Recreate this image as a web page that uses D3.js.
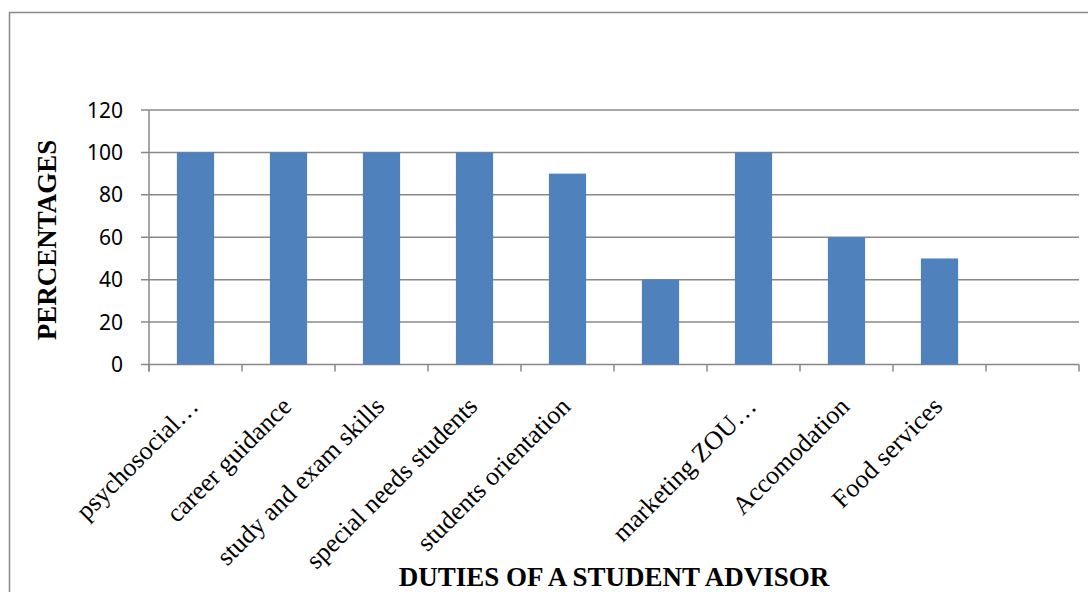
<!DOCTYPE html>
<html>
<head>
<meta charset="utf-8">
<script src="https://cdn.jsdelivr.net/npm/d3@7"></script>
<style>
body { margin: 0; background: #fff; }
svg { display: block; }
</style>
</head>
<body>
<div id="chartDiv"></div>
<script>
var categories = ["psychosocial\u2026", "career guidance", "study and exam skills", "special needs students",
  "students orientation", "", "marketing ZOU\u2026", "Accomodation", "Food services", " "];
var values = [100, 100, 100, 100, 90, 40, 100, 60, 50, null];
var yTicks = [0, 20, 40, 60, 80, 100, 120];

var width = 1088, height = 592;
var plotLeft = 149, plotRight = 1079, plotTop = 110, plotBottom = 364.5;

var svg = d3.select("#chartDiv").append("svg")
  .attr("width", width)
  .attr("height", height);

// chart frame
svg.append("rect")
  .attr("x", 9.5).attr("y", 12.5)
  .attr("width", 1100).attr("height", 600)
  .attr("fill", "none")
  .attr("stroke", "#888")
  .attr("stroke-width", 1.5);

var x = d3.scaleBand()
  .domain(d3.range(categories.length))
  .range([plotLeft, plotRight])
  .paddingInner(0).paddingOuter(0);

var y = d3.scaleLinear()
  .domain([0, 120])
  .range([plotBottom, plotTop]);

// gridlines
svg.append("g")
  .selectAll("line")
  .data(yTicks)
  .enter().append("line")
  .attr("x1", plotLeft - 8).attr("x2", plotRight)
  .attr("y1", function (d) { return y(d); })
  .attr("y2", function (d) { return y(d); })
  .attr("stroke", "#888")
  .attr("stroke-width", 1.5);

// y axis line
svg.append("line")
  .attr("x1", plotLeft).attr("x2", plotLeft)
  .attr("y1", plotTop).attr("y2", plotBottom + 7)
  .attr("stroke", "#888")
  .attr("stroke-width", 1.5);

// x ticks
svg.append("g")
  .selectAll("line")
  .data(d3.range(categories.length + 1))
  .enter().append("line")
  .attr("x1", function (i) { return plotLeft + i * x.bandwidth(); })
  .attr("x2", function (i) { return plotLeft + i * x.bandwidth(); })
  .attr("y1", plotBottom).attr("y2", plotBottom + 7)
  .attr("stroke", "#888")
  .attr("stroke-width", 1.5);

// y tick labels
svg.append("g")
  .selectAll("text")
  .data(yTicks)
  .enter().append("text")
  .attr("x", 123)
  .attr("y", function (d) { return y(d); })
  .attr("dy", "0.36em")
  .attr("text-anchor", "end")
  .style("font-family", "'Noto Sans', 'Open Sans', sans-serif")
  .style("font-size", "21px")
  .style("fill", "#000")
  .text(function (d) { return d; });

// bars
var bw = x.bandwidth() * 0.4;
svg.append("g")
  .selectAll("rect")
  .data(values.map(function (v, i) { return { v: v, i: i }; }).filter(function (d) { return d.v != null; }))
  .enter().append("rect")
  .attr("x", function (d) { return x(d.i) + (x.bandwidth() - bw) / 2; })
  .attr("y", function (d) { return y(d.v); })
  .attr("width", bw)
  .attr("height", function (d) { return y(0) - y(d.v); })
  .attr("fill", "#4F81BD");

// x labels
svg.append("g")
  .selectAll("text")
  .data(categories)
  .enter().append("text")
  .attr("transform", function (d, i) {
    return "translate(" + (x(i) + x.bandwidth() / 2 - 2) + "," + (plotBottom + 37) + ") rotate(-45)";
  })
  .attr("text-anchor", "end")
  .attr("dy", "0.35em")
  .style("font-family", "'Liberation Serif', 'Times New Roman', serif")
  .style("font-size", "26px")
  .style("fill", "#000")
  .text(function (d) { return d; });

// axis titles
svg.append("text")
  .attr("x", 614).attr("y", 586)
  .attr("text-anchor", "middle")
  .style("font-family", "'Liberation Serif', 'Times New Roman', serif")
  .style("font-weight", "bold")
  .style("font-size", "27px")
  .text("DUTIES OF A STUDENT ADVISOR");

svg.append("text")
  .attr("transform", "translate(56,240) rotate(-90)")
  .attr("text-anchor", "middle")
  .style("font-family", "'Liberation Serif', 'Times New Roman', serif")
  .style("font-weight", "bold")
  .style("font-size", "27px")
  .text("PERCENTAGES");
</script>
</body>
</html>
